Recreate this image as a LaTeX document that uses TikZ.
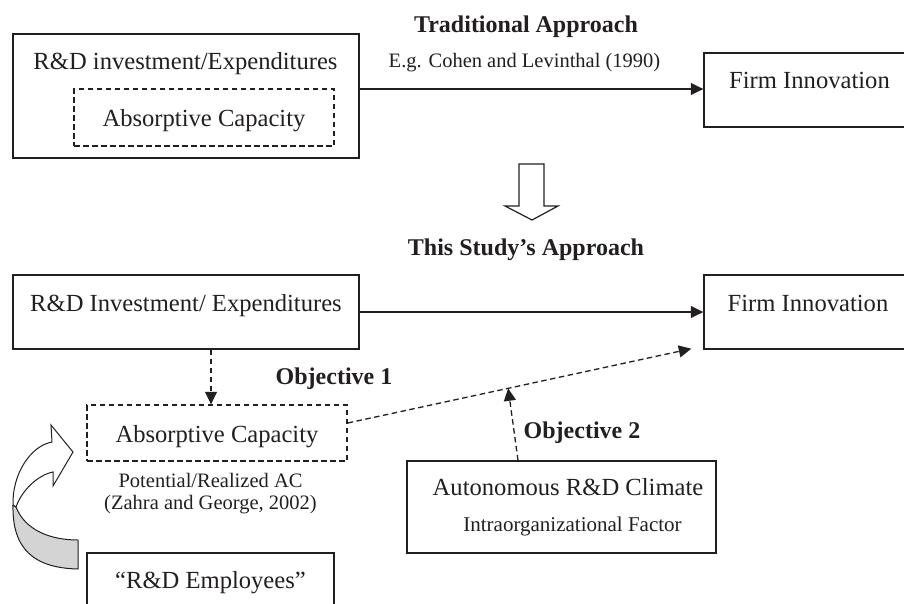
\documentclass[tikz,border=0pt]{standalone}
\usepackage{fontspec}
\setmainfont{Liberation Serif}
\usetikzlibrary{arrows.meta,calc}
\definecolor{ink}{RGB}{35,31,32}
\definecolor{ribbon}{RGB}{212,212,212}
\newcommand\szmain{\fontsize{24.6}{28}\selectfont}
\newcommand\szsmall{\fontsize{20.5}{24}\selectfont}
\newcommand\szsub{\fontsize{21}{24}\selectfont}
\newcommand\szhead{\fontsize{24}{28}\selectfont\bfseries}
\begin{document}
\begin{tikzpicture}[x=1pt,y=-1pt,
  boxline/.style={draw=ink, line width=1.4pt, inner sep=0pt},
  dashbox/.style={boxline, dash pattern=on 5.5pt off 3.5pt},
  txt/.style={anchor=base, inner sep=0pt, text=ink, font=\szmain},
  smalltxt/.style={txt, font=\szsmall},
  subtxt/.style={txt, font=\szsub},
  headtxt/.style={txt, font=\szhead},
  link/.style={draw=ink, line width=1.3pt, -{Triangle[length=12.5pt,width=12pt]}},
  dlink/.style={link, dash pattern=on 5.5pt off 3.5pt}]
\clip (0,0) rectangle (904,603);
\fill[white] (0,0) rectangle (904,603);

% ---- traditional approach ----
\node[boxline, minimum width=346, minimum height=124] (tl) at (186,96) {};
\node[dashbox, minimum width=260, minimum height=57] (ac1) at (204,117.5) {};
\node[boxline, minimum width=210, minimum height=74] (fi1) at (809,90) {};
\node[txt] (tltext) at (185.5,69) {R\&D investment/Expenditures};
\node[txt] (ac1text) at (204,126) {Absorptive Capacity};
\node[txt] (fi1text) at (809.5,88) {Firm Innovation};
\node[headtxt] (trad) at (526,32) {Traditional Approach};
\node[smalltxt] (cohen) at (524.5,67) {E.g. Cohen and Levinthal (1990)};
\draw[link] ([yshift=7pt]tl.east) -- ([yshift=7pt]tl.east -| fi1.west);

% ---- hollow transition arrow ----
\draw[ink, line width=1.2pt, fill=white, line join=miter]
  (519,164) -- (544,164) -- (544,206) -- (558,206) -- (532,220)
  -- (505,206) -- (519,206) -- cycle;

% ---- this study's approach ----
\node[headtxt] (study) at (526,255) {This Study’s Approach};
\node[boxline, minimum width=346, minimum height=74] (rd2) at (186,312) {};
\node[boxline, minimum width=210, minimum height=74] (fi2) at (809,312) {};
\node[dashbox, minimum width=260, minimum height=56] (ac2) at (217,433) {};
\node[boxline, minimum width=309, minimum height=92] (aut) at (561.5,507) {};
\node[boxline, minimum width=247, minimum height=87] (emp) at (210.5,596.5) {};

\node[txt] (rd2text) at (186,311) {R\&D Investment/ Expenditures};
\node[txt] (fi2text) at (808,311) {Firm Innovation};
\node[txt] (ac2text) at (217,442) {Absorptive Capacity};
\node[smalltxt] (pot) at (210.5,487) {Potential/Realized AC};
\node[smalltxt] (zahra) at (210.5,509.5) {(Zahra and George, 2002)};
\node[txt] (auttext) at (568,495.5) {Autonomous R\&D Climate};
\node[subtxt] (intra) at (572.5,531.5) {Intraorganizational Factor};
\node[txt] (emptext) at (210.5,588) {“R\&D Employees”};
\node[headtxt] (obj1) at (334,384) {Objective 1};
\node[headtxt] (obj2) at (582,438) {Objective 2};

\draw[link] (rd2.east) -- (fi2.west);
\draw[dlink] ([xshift=25pt]rd2.south) -- ([xshift=25pt]rd2.south |- ac2.north);
\coordinate (acout) at ([yshift=10pt]ac2.east);
\coordinate (fiin) at ([xshift=-12pt,yshift=1pt]fi2.south west);
\draw[dlink] (acout) -- (fiin);
\coordinate (meet) at ($(acout)!0.467!(fiin)$);
\draw[dlink] ([xshift=-43.5pt]aut.north) -- (meet);

% ---- curved ribbon arrow from the employees box ----
\draw[ink, line width=1pt, fill=ribbon, line join=round]
  (13,505) .. controls (12,550) and (35,568) .. (78,569)
  -- (78,540) .. controls (50,540) and (25,530) .. (16,507) -- cycle;
\draw[ink, line width=1pt, fill=white, line join=miter]
  (13,505) .. controls (12,475) and (30,446) .. (52,442)
  -- (51,425) -- (73,452) -- (53,486) -- (53,472)
  .. controls (38,475) and (22,490) .. (16,507) -- cycle;
\end{tikzpicture}
\end{document}
